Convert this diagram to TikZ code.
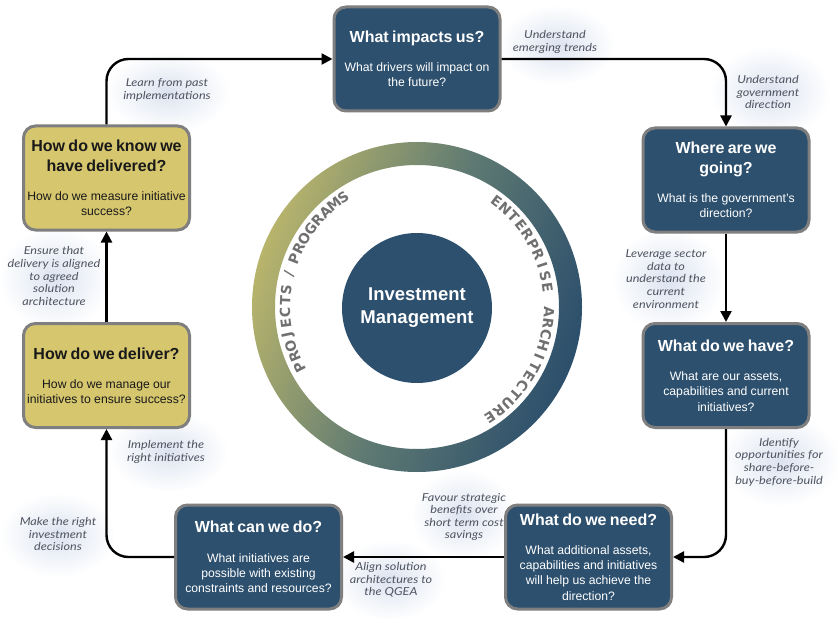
\documentclass[tikz,border=0pt]{standalone}
\usepackage{fontspec}
\setmainfont{Liberation Sans}
\newfontfamily\notefont[FakeStretch=1.15]{Lato}
\newfontfamily\ringfont{DejaVu Sans}
\usetikzlibrary{arrows.meta}
\definecolor{boxblue}{HTML}{2D506E}
\definecolor{boxyellow}{HTML}{D6C66E}
\definecolor{boxedge}{HTML}{7F7F7F}
\definecolor{ringyellow}{HTML}{B8B46C}
\definecolor{ringblue}{HTML}{2C4F6C}
\definecolor{ringmid}{HTML}{5F7A72}
\definecolor{notetext}{HTML}{4F5461}
\definecolor{blobcol}{HTML}{DCE3F0}
\definecolor{ringtext}{HTML}{707070}
\newcommand{\qtext}[2]{\hyphenpenalty=10000\exhyphenpenalty=10000{\fontsize{16}{20}\selectfont\bfseries #1\par}\vspace{14pt}{\fontsize{12.2}{15.2}\selectfont #2\par}}
\tikzset{
  qbox/.style={rounded corners=12pt, draw=boxedge, line width=3pt, minimum width=166pt, minimum height=104pt, align=center, text width=166pt, inner sep=0pt},
  bluebox/.style={qbox, fill=boxblue, text=white},
  yellowbox/.style={qbox, fill=boxyellow, text=black!90},
  conn/.style={line width=2.4pt, -{Triangle[length=11pt,width=11pt]}, rounded corners=22pt},
  note/.style={font=\notefont\itshape\fontsize{11}{12.6}\selectfont, text=notetext, align=center, inner sep=0pt},
  blob/.style={inner color=blobcol, outer color=white},
  ringlbl/.style={font=\ringfont\bfseries\fontsize{14}{14}\selectfont, text=ringtext, inner sep=0pt}
}
\begin{document}
\begin{tikzpicture}[x=1pt,y=-1pt]
\useasboundingbox (0,0) rectangle (840,623);
\fill[white] (0,0) rectangle (840,623);
% soft blobs behind notes
\shade[blob] (557,45) ellipse[x radius=58pt, y radius=40pt];
\shade[blob] (770,92) ellipse[x radius=60pt, y radius=46pt];
\shade[blob] (668,280) ellipse[x radius=56pt, y radius=52pt];
\shade[blob] (780,460) ellipse[x radius=60pt, y radius=46pt];
\shade[blob] (463,515) ellipse[x radius=52pt, y radius=46pt];
\shade[blob] (390,580) ellipse[x radius=56pt, y radius=40pt];
\shade[blob] (58,535) ellipse[x radius=58pt, y radius=42pt];
\shade[blob] (168,452) ellipse[x radius=60pt, y radius=40pt];
\shade[blob] (55,278) ellipse[x radius=56pt, y radius=52pt];
\shade[blob] (168,92) ellipse[x radius=62pt, y radius=40pt];
% ring
\shade[even odd rule, top color=ringyellow, bottom color=ringblue, middle color=ringmid, shading angle=70]
  (417,307) circle[radius=165pt] (417,307) circle[radius=142pt];
\foreach \ch/\ang [count=\i] in {E/53,N/48.07,T/43.14,E/38.21,R/33.28,P/28.35,R/23.42,I/18.49,S/13.56,E/8.63,
    A/-2.27,R/-7.2,C/-12.13,H/-17.06,I/-21.99,T/-26.92,E/-31.85,C/-36.78,T/-41.71,U/-46.64,R/-51.57,E/-56.5} {
  \pgfmathsetmacro\rot{\ang-90}
  \node[ringlbl, rotate=\rot] (ea\i) at ({417+132*cos(\ang)},{307-132*sin(\ang)}) {\ch};
}
\foreach \ch/\ang [count=\i] in {P/207,R/202.06,O/197.12,J/192.18,E/187.24,C/182.3,T/177.36,S/172.42,{/}/165.5,
    P/158.58,R/153.64,O/148.7,G/143.76,R/138.82,A/133.88,M/128.94,S/124.0} {
  \pgfmathsetmacro\rot{\ang-90}
  \node[ringlbl, rotate=\rot] (pp\i) at ({417+132*cos(\ang)},{307-132*sin(\ang)}) {\ch};
}
\node[circle, fill=boxblue, minimum size=150pt, inner sep=0pt, text=white, align=center,
      font=\bfseries\fontsize{18.5}{23}\selectfont] (core) at (417,308) {Investment\\Management};
% boxes
\node[bluebox] (impacts) at (417,59) {\qtext{What impacts us?}{What drivers will impact on\\the future?}};
\node[bluebox] (where) at (726,180) {\qtext{Where are we\\going?}{What is the government's\\direction?}};
\node[bluebox] (have) at (726,375.5) {\qtext{What do we have?}{What are our assets,\\capabilities and current\\initiatives?}};
\node[bluebox, minimum width=163pt] (need) at (588.5,557) {\qtext{What do we need?}{What additional assets,\\capabilities and initiatives\\will help us achieve the\\direction?}};
\node[bluebox] (can) at (258.5,557) {\qtext{What can we do?}{What initiatives are\\possible with existing\\constraints and resources?}};
\node[yellowbox] (deliver) at (106.5,375.5) {\qtext{How do we deliver?}{How do we manage our\\initiatives to ensure success?}};
\node[yellowbox] (know) at (106.5,178) {\qtext{How do we know we\\have delivered?}{How do we measure initiative\\success?}};
% connectors
\draw[conn] (know.north) |- (impacts.west);
\draw[conn] (impacts.east) -| (where.north);
\draw[conn] (where.south) -- (have.north);
\draw[conn] (have.south) |- (need.east);
\draw[conn] (need.west) -- (can.east);
\draw[conn] (can.west) -| (deliver.south);
\draw[conn] (deliver.north) -- (know.south);
% notes
\node[note] (n1) at (555,42) {Understand\\emerging trends};
\node[note] (n2) at (768,92) {Understand\\government\\direction};
\node[note] (n3) at (666,279) {Leverage sector\\data to\\understand the\\current\\environment};
\node[note] (n4) at (779,462) {Identify\\opportunities for\\share-before-\\buy-before-build};
\node[note] (n5) at (464,517) {Favour strategic\\benefits over\\short term cost\\savings};
\node[note] (n6) at (391,580) {Align solution\\architectures to\\the QGEA};
\node[note] (n7) at (58,534) {Make the right\\investment\\decisions};
\node[note] (n8) at (166,452) {Implement the\\right initiatives};
\node[note] (n9) at (54,276) {Ensure that\\delivery is aligned\\to agreed\\solution\\architecture};
\node[note] (n10) at (167,90) {Learn from past\\implementations};
\end{tikzpicture}
\end{document}
